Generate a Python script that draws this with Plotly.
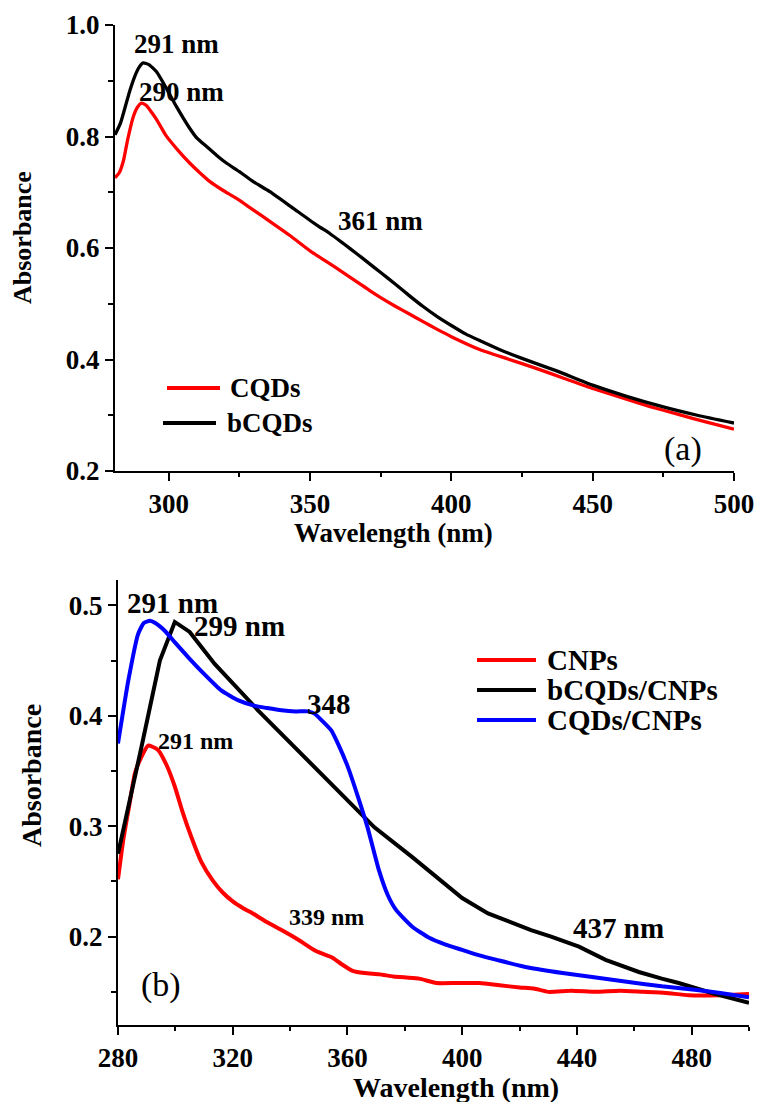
import plotly.graph_objects as go

W, H = 758, 1102

# ---------------- Panel (a) data ----------------
cqd_wl = [281, 282.5, 284, 285.5, 287.5, 289, 290.4, 292, 294, 296, 299, 303, 307.5, 311, 314.6, 319,
          324, 330, 336, 343, 350, 356, 362, 367, 371, 375, 380, 385, 390, 395, 400, 410, 420, 430,
          440, 450, 460, 470, 480, 490, 500]
cqd_abs = [0.726, 0.735, 0.757, 0.795, 0.836, 0.853, 0.860, 0.856, 0.843, 0.828, 0.802, 0.777, 0.752,
           0.735, 0.719, 0.704, 0.689, 0.668, 0.647, 0.622, 0.595, 0.575, 0.555, 0.538, 0.524, 0.511,
           0.496, 0.482, 0.468, 0.454, 0.441, 0.418, 0.401, 0.384, 0.366, 0.348, 0.332, 0.316, 0.302,
           0.288, 0.275]

bcqd_wl = [281, 283, 285, 286.3, 288, 289.5, 291, 293, 295.7, 299, 302.8, 307, 310, 313.4, 317, 320.5,
           325, 329.9, 335.8, 344.1, 352.4, 357, 361.8, 367, 371, 375, 380, 385, 390, 395, 400, 405,
           410, 417, 425, 437, 450, 462, 475, 487, 500]
bcqd_abs = [0.803, 0.825, 0.860, 0.883, 0.908, 0.924, 0.932, 0.929, 0.916, 0.888, 0.853, 0.818, 0.797,
            0.782, 0.766, 0.752, 0.737, 0.719, 0.701, 0.671, 0.641, 0.626, 0.608, 0.588, 0.572, 0.556,
            0.536, 0.515, 0.495, 0.477, 0.461, 0.446, 0.434, 0.418, 0.402, 0.380, 0.354, 0.334, 0.315,
            0.300, 0.286]

# ---------------- Panel (b) data ----------------
cnp_wl = [280, 281.8, 284, 285.9, 288, 290.5, 292, 294, 297, 299.8, 302.5, 305.6, 309, 313, 316.5, 320,
          323.5, 327, 332, 337, 343, 349, 354.8, 358, 361.8, 366, 371, 376, 380.5, 385, 391, 398, 406,
          413, 420, 425, 430, 438, 446.6, 455, 463, 471, 479, 490, 500]
cnp_abs = [0.252, 0.287, 0.320, 0.348, 0.362, 0.373, 0.372, 0.369, 0.355, 0.336, 0.313, 0.290, 0.268,
           0.251, 0.240, 0.232, 0.226, 0.221, 0.213, 0.206, 0.197, 0.187, 0.181, 0.175, 0.169, 0.167,
           0.166, 0.164, 0.163, 0.162, 0.158, 0.158, 0.158, 0.156, 0.154, 0.153, 0.150, 0.151, 0.150,
           0.151, 0.150, 0.149, 0.147, 0.147, 0.148]

bcqd_cnp_wl = [280, 281.3, 288.2, 294.6, 299.8, 305, 313.7, 328.8, 348.5, 369.4, 382.6, 400, 409, 416,
               424, 431, 440.7, 450, 455.7, 461.6, 469.6, 475.5, 487, 500]
bcqd_cnp_abs = [0.275, 0.290, 0.372, 0.450, 0.485, 0.476, 0.447, 0.405, 0.354, 0.299, 0.272, 0.235,
                0.221, 0.214, 0.206, 0.200, 0.191, 0.179, 0.174, 0.168, 0.162, 0.158, 0.149, 0.140]

cqd_cnp_wl = [280, 283.6, 287, 289, 291.1, 293, 296.3, 300, 304.5, 310, 316, 322, 327.7, 332, 337, 342,
              346.2, 348.5, 351, 354.3, 357, 360.1, 363.5, 367, 371, 374, 377, 382.6, 388.5, 394, 400,
              406, 412, 423, 435, 446.6, 458, 469.6, 481, 490, 500]
cqd_cnp_abs = [0.375, 0.432, 0.474, 0.484, 0.486, 0.484, 0.477, 0.466, 0.453, 0.438, 0.423, 0.414,
               0.409, 0.407, 0.405, 0.404, 0.404, 0.402, 0.396, 0.387, 0.373, 0.354, 0.328, 0.299,
               0.260, 0.238, 0.224, 0.209, 0.199, 0.193, 0.188, 0.183, 0.179, 0.172, 0.167, 0.163,
               0.159, 0.155, 0.152, 0.149, 0.145]

# peak labels: (text, x, y, size)
labels_a = [("291 nm", 302.6, 0.966, 27), ("290 nm", 304.4, 0.880, 27), ("361 nm", 375.1, 0.648, 27)]
labels_b = [("291 nm", 299.1, 0.502, 29), ("299 nm", 322.4, 0.481, 29), ("348", 353.7, 0.411, 29),
            ("291 nm", 307.1, 0.377, 24), ("339 nm", 352.7, 0.218, 24), ("437 nm", 454.6, 0.208, 29)]

RED, BLACK, BLUE = "#ff0000", "#000000", "#0000ff"
FONT = "Liberation Serif, Times New Roman, serif"


def px(x):
    return x / W


def py(y):
    return 1 - y / H


fig = go.Figure()
fig.add_trace(go.Scatter(x=cqd_wl, y=cqd_abs, mode="lines", name="CQDs",
                         line=dict(color=RED, width=3.3, shape="spline", smoothing=0.5),
                         xaxis="x", yaxis="y"))
fig.add_trace(go.Scatter(x=bcqd_wl, y=bcqd_abs, mode="lines", name="bCQDs",
                         line=dict(color=BLACK, width=3.3, shape="spline", smoothing=0.5),
                         xaxis="x", yaxis="y"))
fig.add_trace(go.Scatter(x=cnp_wl, y=cnp_abs, mode="lines", name="CNPs",
                         line=dict(color=RED, width=4, shape="spline", smoothing=0.5),
                         xaxis="x2", yaxis="y2"))
fig.add_trace(go.Scatter(x=bcqd_cnp_wl, y=bcqd_cnp_abs, mode="lines", name="bCQDs/CNPs",
                         line=dict(color=BLACK, width=4),
                         xaxis="x2", yaxis="y2"))
fig.add_trace(go.Scatter(x=cqd_cnp_wl, y=cqd_cnp_abs, mode="lines", name="CQDs/CNPs",
                         line=dict(color=BLUE, width=4, shape="spline", smoothing=0.5),
                         xaxis="x2", yaxis="y2"))

axis_common = dict(showline=True, linecolor="black", linewidth=2, showgrid=False, zeroline=False,
                   ticks="outside", ticklen=8, tickwidth=2, tickcolor="black",
                   tickfont=dict(family=FONT, size=27, color="black", weight="bold"),
                   mirror=False, automargin=False)

fig.update_layout(
    width=W, height=H,
    margin=dict(l=0, r=0, t=0, b=0, autoexpand=False),
    paper_bgcolor="white", plot_bgcolor="white",
    showlegend=False,
    font=dict(family=FONT, color="black"),
    xaxis=dict(domain=[px(115), px(734)], anchor="y", range=[281, 500], tick0=300, dtick=50,
               minor=dict(ticks="outside", ticklen=4, tickwidth=2, tickcolor="black", dtick=25, tick0=275),
               **axis_common),
    yaxis=dict(domain=[py(471), py(25)], anchor="x", range=[0.2, 1.0], tick0=0.2, dtick=0.2,
               tickformat=".1f",
               minor=dict(ticks="outside", ticklen=5, tickwidth=2, tickcolor="black", dtick=0.1, tick0=0.2),
               **axis_common),
    xaxis2=dict(domain=[px(118), px(749)], anchor="y2", range=[280, 500], tick0=280, dtick=40,
                minor=dict(ticks="outside", ticklen=4, tickwidth=2, tickcolor="black", dtick=20, tick0=280),
                **axis_common),
    yaxis2=dict(domain=[py(1025), py(580)], anchor="x2", range=[0.12, 0.523], tick0=0.2, dtick=0.1,
                tickformat=".1f",
                minor=dict(ticks="outside", ticklen=5, tickwidth=2, tickcolor="black", dtick=0.05, tick0=0.1),
                **axis_common),
)

ann = []
for t, x, y, s in labels_a:
    ann.append(dict(text=t, x=x, y=y, xref="x", yref="y", showarrow=False,
                    xanchor="center", yanchor="middle",
                    font=dict(family=FONT, size=s, color="black", weight="bold")))
for t, x, y, s in labels_b:
    ann.append(dict(text=t, x=x, y=y, xref="x2", yref="y2", showarrow=False,
                    xanchor="center", yanchor="middle",
                    font=dict(family=FONT, size=s, color="black", weight="bold")))


def paper_text(text, x, y, size, bold=True, angle=0, xanchor="center"):
    f = dict(family=FONT, size=size, color="black")
    if bold:
        f["weight"] = "bold"
    return dict(text=text, x=px(x), y=py(y), xref="paper", yref="paper", showarrow=False,
                xanchor=xanchor, yanchor="middle", textangle=angle, font=f)


# panel tags
ann.append(paper_text("(a)", 683, 449, 34, bold=False))
ann.append(paper_text("(b)", 161, 985, 34, bold=False))

# axis titles
ann.append(paper_text("Wavelength (nm)", 393, 533, 27))
ann.append(paper_text("Absorbance", 22, 238, 26, angle=-90))
ann.append(paper_text("Wavelength (nm)", 456, 1087, 28))
ann.append(paper_text("Absorbance", 31, 776, 28, angle=-90))

# legends (drawn as key line + text)
legend_a = [("CQDs", RED, 167, 220, 388, 228), ("bCQDs", BLACK, 163, 216, 423, 225)]
legend_b = [("CNPs", RED, 477, 536, 660, 545), ("bCQDs/CNPs", BLACK, 477, 536, 690, 545),
            ("CQDs/CNPs", BLUE, 477, 536, 720, 545)]
shapes = []
for name, col, x0, x1, yy, tx in legend_a:
    shapes.append(dict(type="line", xref="paper", yref="paper", x0=px(x0), x1=px(x1), y0=py(yy), y1=py(yy),
                       line=dict(color=col, width=4)))
    ann.append(paper_text(name, tx, yy, 27, xanchor="left"))
for name, col, x0, x1, yy, tx in legend_b:
    shapes.append(dict(type="line", xref="paper", yref="paper", x0=px(x0), x1=px(x1), y0=py(yy), y1=py(yy),
                       line=dict(color=col, width=4)))
    ann.append(paper_text(name, tx, yy, 29, xanchor="left"))

fig.update_layout(annotations=ann, shapes=shapes)
fig.write_html("out.html")
